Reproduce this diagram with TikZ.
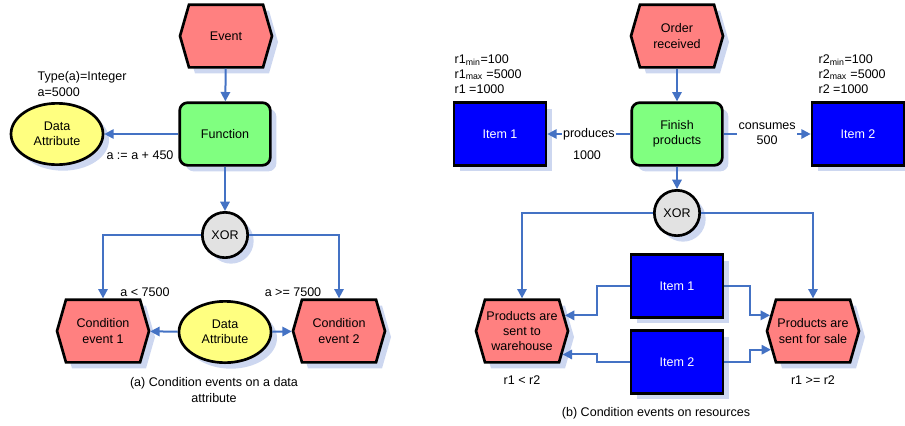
\documentclass[tikz,border=0pt]{standalone}
\usepackage{fontspec}
\setmainfont{Liberation Sans}
\usepackage{tikz}
\usetikzlibrary{arrows.meta,shapes,shapes.symbols,shadows}
\definecolor{evtred}{RGB}{255,128,128}
\definecolor{fncgreen}{RGB}{128,255,128}
\definecolor{datyellow}{RGB}{255,255,128}
\definecolor{resblue}{RGB}{0,0,255}
\definecolor{xorgray}{RGB}{226,226,226}
\definecolor{flowblue}{RGB}{68,114,196}
\definecolor{shadeblue}{RGB}{205,215,240}

\begin{document}
\begin{tikzpicture}[x=0.75pt,y=-0.75pt,
  every node/.style={font=\fontsize{9.4}{11.4}\selectfont},
  boxshadow/.style={drop shadow={shadow xshift=4.5pt,shadow yshift=-4.5pt,fill=shadeblue,opacity=1}},
  evt/.style={signal,signal to=east and west,signal pointer angle=148,draw,line width=2pt,
    fill=evtred,minimum width=69pt,minimum height=47pt,inner sep=1pt,align=center,boxshadow},
  fnc/.style={rectangle,rounded corners=6pt,draw,line width=2pt,fill=fncgreen,
    minimum width=68pt,minimum height=47pt,align=center,boxshadow},
  dat/.style={ellipse,draw,line width=2pt,fill=datyellow,minimum width=69pt,
    minimum height=46pt,inner sep=1pt,align=center,boxshadow},
  res/.style={rectangle,draw,line width=2pt,fill=resblue,text=white,minimum width=69pt,
    minimum height=47pt,boxshadow},
  xorgate/.style={circle,draw,line width=2pt,fill=xorgray,minimum size=34pt,inner sep=0pt,boxshadow},
  flow/.style={draw=flowblue,line width=1.5pt,-{Triangle[length=7pt,width=7pt]}},
  lbl/.style={inner sep=1pt,align=center}]
  \useasboundingbox (0,0) rectangle (905,425);

  % (a) condition events on a data attribute
  \node[evt] (ev) at (226,36) {Event};
  \node[fnc] (fn) at (225,134) {Function};
  \node[dat] (da1) at (57,134) {Data\\Attribute};
  \node[xorgate] (xa) at (225,235) {XOR};
  \node[evt] (ce1) at (103,331) {Condition\\event 1};
  \node[evt] (ce2) at (339,331) {Condition\\event 2};
  \node[dat] (da2) at (225,332) {Data\\Attribute};

  \node[lbl,anchor=west,align=left] (typ) at (36,84) {Type(a)=Integer\\a=5000};
  \node[lbl] (asg) at (140,155) {a := a + 450};
  \node[lbl] (lt) at (145,292) {a < 7500};
  \node[lbl] (ge) at (293,292) {a >= 7500};
  \node[lbl] (capa) at (214,390) {(a) Condition events on a data\\attribute};

  \draw[flow] (ev) -- (fn);
  \draw[flow] (fn) -- (da1);
  \draw[flow] (fn) -- (xa);
  \draw[flow] (xa.west) -| (ce1.north);
  \draw[flow] (xa.east) -| (ce2.north);
  \draw[flow] (da2) -- (ce1);
  \draw[flow] (da2) -- (ce2);

  % (b) condition events on resources
  \node[evt] (ord) at (677,36) {Order\\received};
  \node[fnc] (fin) at (677,134) {Finish\\products};
  \node[res] (it1) at (500,134) {Item 1};
  \node[res] (it2) at (858,134) {Item 2};
  \node[xorgate] (xb) at (677,213) {XOR};
  \node[evt] (wh) at (522,331) {Products are\\sent to\\warehouse};
  \node[evt] (sl) at (813,331) {Products are\\sent for sale};
  \node[res] (i1b) at (677,286) {Item 1};
  \node[res] (i2b) at (677,362) {Item 2};

  \node[lbl,anchor=west,align=left] (r1) at (453,74)
    {r1\textsubscript{min}=100\\r1\textsubscript{max} =5000\\r1 =1000};
  \node[lbl,anchor=west,align=left] (r2) at (817,74)
    {r2\textsubscript{min}=100\\r2\textsubscript{max} =5000\\r2 =1000};
  \node[lbl] (pq) at (587,155) {1000};
  \node[lbl] (lt2) at (522,380) {r1 < r2};
  \node[lbl] (ge2) at (813,380) {r1 >= r2};
  \node[lbl] (capb) at (656,413) {(b) Condition events on resources};

  \draw[flow] (ord) -- (fin);
  \draw[flow] (fin) -- node[lbl,fill=white] {produces} (it1);
  \draw[flow] (fin) -- node[lbl,fill=white] {consumes\\500} (it2);
  \draw[flow] (fin) -- (xb);
  \draw[flow] (xb.west) -| (wh.north);
  \draw[flow] (xb.east) -| (sl.north);
  \draw[flow] (i1b.west) -- ++(-33,0) |- (wh.20);
  \draw[flow] (i2b.west) -- ++(-33,0) |- (wh.-30);
  \draw[flow] (i1b.east) -- ++(26,0) |- (sl.160);
  \draw[flow] (i2b.east) -- ++(26,0) |- (sl.204);
\end{tikzpicture}
\end{document}
